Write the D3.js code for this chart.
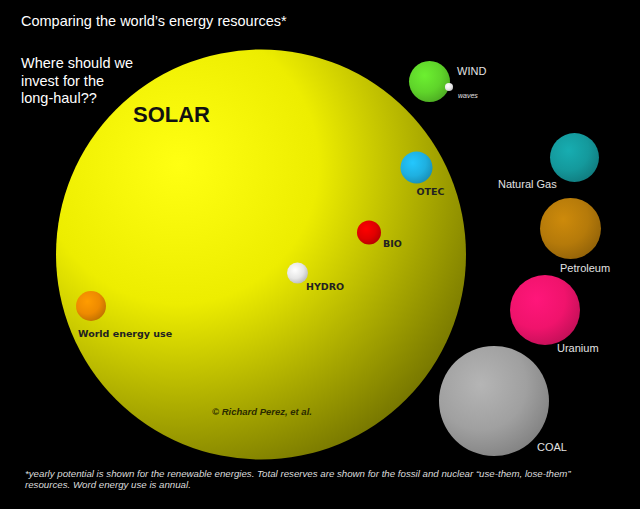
<!DOCTYPE html>
<html>
<head>
<meta charset="utf-8">
<script src="https://cdn.jsdelivr.net/npm/d3@7"></script>
<style>
	body { margin: 0; background: #000; }
	svg { display: block; }
</style>
</head>
<body>
<svg></svg>
<script>
// resources and their size (area ~ value), solar = 23000
const names = ["SOLAR", "World energy use", "WIND", "waves", "OTEC", "BIO", "HYDRO",
	"Natural Gas", "Petroleum", "Uranium", "COAL"];
const values = [23000, 123, 230, 9, 140, 79, 60, 328, 509, 670, 1656];

// layout of the picture (bubble centres and label offsets)
const posX = [261, 91, 429.5, 449, 416.5, 369, 297.5, 574.5, 570.5, 545, 494];
const posY = [254.5, 306, 81.5, 87, 167.5, 232.5, 273, 157.5, 228.5, 310, 401];
const labelDX = [-128, -13, 27.5, 9, 0, 14, 8.5, -76.5, -10.5, 12, 43];
const labelDY = [-133, 31, -6.5, 11, 27.5, 14.5, 17, 30.5, 43.5, 42, 50];

const colors = ["#f2f200", "#ee8a00", "#5fd42a", "#e8e8e8", "#1fb0e0", "#e00000", "#e6e6e6",
	"#14999c", "#b57a0a", "#f0136c", "#a0a0a0"];

const SVGsize = { w: 640, h: 509 };
const svg = d3.select("svg").attr("width", SVGsize.w).attr("height", SVGsize.h);
svg.append("rect").attr("width", SVGsize.w).attr("height", SVGsize.h).attr("fill", "#000");

const data = names.map((n, i) => ({ name: n, value: values[i], x: posX[i], y: posY[i],
	dx: labelDX[i], dy: labelDY[i], color: colors[i] }));

const scaleR = d3.scaleSqrt().domain([0, 23000]).range([0, 205]);
const scaleX = d3.scaleLinear().domain([0, SVGsize.w]).range([0, SVGsize.w]);
const scaleY = d3.scaleLinear().domain([0, SVGsize.h]).range([0, SVGsize.h]);

const defs = svg.append("defs");
data.forEach((d, i) => {
	let g = defs.append("radialGradient").attr("id", "g" + i);
	let c = d3.color(d.color);
	if (i == 0) {
		g.attr("cx", "30%").attr("cy", "28%").attr("r", "85%");
		g.append("stop").attr("offset", "0%").attr("stop-color", "#ffff12");
		g.append("stop").attr("offset", "40%").attr("stop-color", "#eded00");
		g.append("stop").attr("offset", "100%").attr("stop-color", "#6a6a00");
	} else {
		g.attr("cx", "38%").attr("cy", "35%").attr("r", "75%");
		g.append("stop").attr("offset", "0%").attr("stop-color", c.brighter(0.35));
		g.append("stop").attr("offset", "55%").attr("stop-color", c);
		g.append("stop").attr("offset", "100%").attr("stop-color", c.darker(0.7));
	}
});

svg.selectAll("circle.bubble")
	.data(data)
	.join("circle")
	.attr("class", "bubble")
	.attr("cx", (d) => scaleX(d.x))
	.attr("cy", (d) => scaleY(d.y))
	.attr("r", (d) => scaleR(d.value))
	.attr("fill", (d, i) => `url(#g${i})`);

// labels: inside the sun dark bold, outside light
const inside = ["World energy use", "OTEC", "BIO", "HYDRO"];
svg.selectAll("text.label")
	.data(data)
	.join("text")
	.attr("class", "label")
	.attr("x", (d) => scaleX(d.x) + d.dx)
	.attr("y", (d) => scaleY(d.y) + d.dy)
	.attr("font-family", (d) => inside.includes(d.name) ? "DejaVu Sans" : "Liberation Sans, Arial")
	.attr("font-weight", (d) => d.name == "SOLAR" || inside.includes(d.name) ? "bold" : "normal")
	.attr("font-style", (d) => d.name == "waves" ? "italic" : "normal")
	.attr("font-size", (d) => d.name == "SOLAR" ? 22 : d.name == "waves" ? 7 : inside.includes(d.name) ? 9.5 : 11)
	.attr("fill", (d) => d.name == "SOLAR" ? "#111" : inside.includes(d.name) ? "#222" : "#e2e2e2")
	.text((d) => d.name);

svg.append("text")
	.attr("x", 21).attr("y", 26)
	.attr("font-family", "Liberation Sans, Arial").attr("font-size", 14.5)
	.attr("fill", "#fff")
	.text("Comparing the world\u2019s energy resources*");

const question = ["Where should we", "invest for the", "long-haul??"];
svg.append("text")
	.attr("font-family", "Liberation Sans, Arial").attr("font-size", 14.5)
	.attr("fill", "#fff")
	.selectAll("tspan")
	.data(question)
	.join("tspan")
	.attr("x", 21)
	.attr("y", (d, i) => 68 + i * 17.5)
	.text((d) => d);

svg.append("text")
	.attr("x", 212).attr("y", 415)
	.attr("font-family", "Liberation Sans, Arial").attr("font-size", 9.5)
	.attr("font-weight", "bold").attr("font-style", "italic")
	.attr("fill", "#2a2a00")
	.text("\u00a9 Richard Perez, et al.");

const footnote = [
	"*yearly potential is shown for the renewable energies. Total reserves are shown for the fossil and nuclear \u201cuse-them, lose-them\u201d",
	"resources. Word energy use is annual."
];
svg.append("text")
	.attr("font-family", "Liberation Sans, Arial").attr("font-size", 9.7)
	.attr("font-style", "italic")
	.attr("fill", "#dcdcdc")
	.selectAll("tspan")
	.data(footnote)
	.join("tspan")
	.attr("x", 25)
	.attr("y", (d, i) => 477 + i * 11)
	.text((d) => d);
</script>
</body>
</html>
